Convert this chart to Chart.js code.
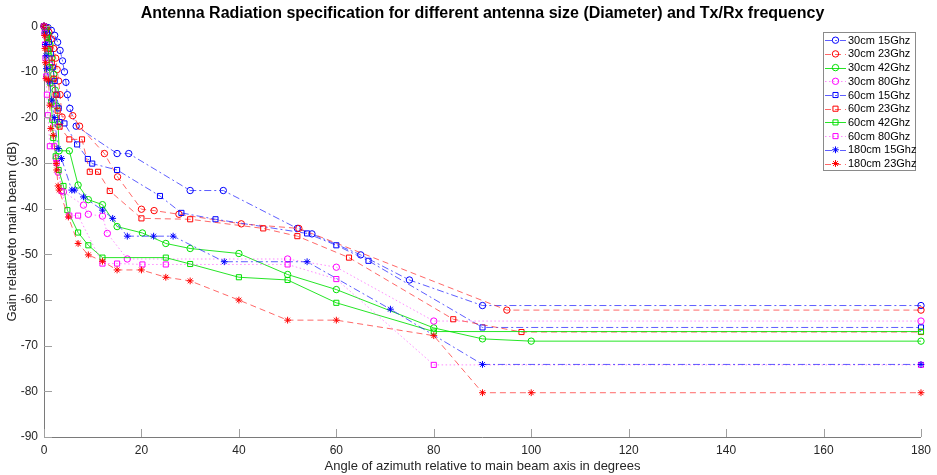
<!DOCTYPE html>
<html><head><meta charset="utf-8">
<script src="https://cdn.jsdelivr.net/npm/chart.js"></script>
<style>html,body{margin:0;padding:0;background:#fff;}canvas{display:block;}</style>
</head><body>
<canvas id="c" width="937" height="475"></canvas>
<script>
// ---- data ----
const seriesNames = ['30cm 15Ghz','30cm 23Ghz','30cm 42Ghz','30cm 80Ghz','60cm 15Ghz','60cm 23Ghz','60cm 42Ghz','60cm 80Ghz','180cm 15Ghz','180cm 23Ghz'];

const ang30_15  = [0, 0.8, 1.5, 2.2, 2.8, 3.3, 3.8, 4.2, 4.5, 4.8, 5.3, 6.6, 15, 17.4, 30, 36.8, 52, 55, 65, 75, 90, 180];
const gain30_15 = [0, -0.3, -0.9, -2, -3.5, -5.3, -7.6, -10, -12.3, -15, -18, -21.9, -27.9, -27.9, -36, -36, -44.3, -45.5, -50.1, -55.6, -61.2, -61.2];

const ang30_23  = [0, 0.5, 1.0, 1.5, 2.0, 2.4, 2.7, 3.0, 3.3, 3.7, 5.9, 7.3, 12.4, 15.1, 20, 22.6, 27.7, 40.5, 52.3, 95, 180];
const gain30_23 = [0, -0.4, -1.3, -2.8, -4.9, -7, -9.5, -12, -15, -19.9, -19.6, -21.9, -27.9, -33, -40.1, -40.4, -41.2, -43.3, -44.3, -62.2, -62.2];

const ang30_42  = [0, 0.4, 0.8, 1.2, 1.6, 2.0, 2.3, 2.6, 2.9, 3.1, 5.2, 7, 9.1, 12, 15, 20.2, 25, 30, 40, 50, 60, 80, 90, 100, 180];
const gain30_42 = [0, -0.5, -1.8, -4, -7, -10.5, -14, -17.5, -21.5, -27.3, -27.3, -34.8, -38, -39.1, -43.9, -45.3, -47.6, -48.7, -49.8, -54.4, -57.7, -66.1, -68.5, -69, -69];

const ang30_80  = [0, 0.3, 0.6, 0.9, 1.2, 1.5, 1.8, 2.1, 2.5, 2.9, 4.0, 8.1, 9.1, 12, 13, 17.1, 50, 60, 80, 180];
const gain30_80 = [0, -0.8, -2.5, -5, -8.5, -12.5, -17, -21, -29, -32, -36.3, -39.2, -41.2, -41.6, -45.4, -51, -51, -52.8, -64.6, -64.6];

const ang60_15  = [0, 0.3, 0.6, 1.0, 1.4, 1.8, 2.2, 2.6, 3.0, 3.2, 4.2, 6.8, 9.0, 9.9, 15, 23.8, 28.2, 35.2, 54, 60, 66.6, 90, 180];
const gain60_15 = [0, -0.5, -1.5, -3.5, -6, -9, -12, -15, -18, -21, -21.3, -25.9, -29.1, -30.1, -31.5, -37.2, -40.9, -42.3, -45.4, -48, -51.4, -66, -66];

const ang60_23  = [0, 0.4, 0.8, 1.2, 1.6, 2.0, 2.4, 2.8, 3.2, 5.2, 7.8, 9.4, 11.1, 13.5, 20, 30, 45, 52, 62.6, 84, 98, 180];
const gain60_23 = [0, -0.8, -2.5, -5, -8, -11.5, -15, -18.5, -22, -24.8, -24.8, -31.9, -31.9, -36.1, -42.1, -42.3, -44.3, -46, -50.7, -64.2, -67, -67];

const ang60_42  = [0, 0.3, 0.6, 0.9, 1.1, 1.3, 1.5, 1.7, 1.9, 2.4, 3.0, 4.0, 4.8, 7, 9.1, 12, 25, 30, 40, 50, 60, 80, 180];
const gain60_42 = [0, -0.7, -2.5, -5.5, -9, -12.5, -16.5, -20.5, -24.5, -28.5, -31.5, -35, -40.3, -45.2, -48, -50.7, -50.7, -52.1, -55, -55.6, -60.6, -66.9, -66.9];

const ang60_80  = [0, 0.1, 0.2, 0.3, 0.45, 0.6, 0.8, 1.2, 2.1, 2.6, 3.6, 5.2, 7, 12, 15, 20.2, 25, 50, 60, 80, 180];
const gain60_80 = [0, -1.5, -4, -7, -11, -15, -19.5, -26.3, -26.3, -30, -36.1, -41.5, -41.5, -52, -52, -52.2, -52.2, -52.2, -55.4, -74.2, -74.2];

const ang180_15  = [0, 0.15, 0.3, 0.4, 0.5, 1.1, 1.6, 2.1, 2.9, 3.6, 5.7, 6.3, 8.1, 12, 14.1, 17.1, 22.5, 26.5, 37, 54, 71.1, 90, 180];
const gain180_15 = [0, -1.5, -4, -6.5, -9.3, -12.2, -16.2, -20, -26.8, -29, -35.9, -35.9, -37.4, -40.3, -42.1, -46, -46, -46, -51.6, -51.6, -62, -74.1, -74.1];

const ang180_23  = [0, 0.1, 0.2, 0.3, 0.4, 0.9, 1.2, 1.4, 1.9, 2.5, 2.6, 2.9, 3.1, 5, 7, 9.1, 12, 15, 20, 25, 30, 40, 50, 60, 80, 90, 100, 180];
const gain180_23 = [0, -2, -4.9, -8, -11.5, -11.8, -17.3, -22.4, -23.9, -30.1, -31.5, -35, -35.9, -41.8, -47.6, -50.1, -51.5, -53.4, -53.4, -55, -55.8, -60, -64.4, -64.4, -67.8, -80.3, -80.3, -80.3];

const xTicks = [0, 20, 40, 60, 80, 100, 120, 140, 160, 180];
const yTicks = [0, -10, -20, -30, -40, -50, -60, -70, -80, -90];

const titleText = 'Antenna Radiation specification for different antenna size (Diameter) and Tx/Rx frequency';
const xTitle = 'Angle of azimuth relative to main beam axis in degrees';
const yTitle = 'Gain relativeto main beam (dB)';

// ---- styles ----
const COL = {
  blue:   {m: '#0000ff', l: 'rgba(40,40,255,0.75)'},
  red:    {m: '#ff0000', l: 'rgba(255,40,40,0.7)'},
  green:  {m: '#00e000', l: 'rgba(0,225,0,0.85)'},
  magenta:{m: '#ff00ff', l: 'rgba(255,60,255,0.6)'}
};
const DASH = {dashdot: [7, 3, 2, 3], dashed: [6, 4], dotted: [1.5, 2.5], solid: []};

const seriesData = [
  [ang30_15, gain30_15, 'blue', 'dashdot', 'circle'],
  [ang30_23, gain30_23, 'red', 'dashed', 'circle'],
  [ang30_42, gain30_42, 'green', 'solid', 'circle'],
  [ang30_80, gain30_80, 'magenta', 'dotted', 'circle'],
  [ang60_15, gain60_15, 'blue', 'dashdot', 'rect'],
  [ang60_23, gain60_23, 'red', 'dashed', 'rect'],
  [ang60_42, gain60_42, 'green', 'solid', 'rect'],
  [ang60_80, gain60_80, 'magenta', 'dotted', 'rect'],
  [ang180_15, gain180_15, 'blue', 'dashdot', 'star'],
  [ang180_23, gain180_23, 'red', 'dashed', 'star']
];

function radiusFor(style) { return style === 'circle' ? 3.2 : (style === 'rect' ? 3.6 : 3.4); }

const datasets = seriesData.map((s, i) => ({
  label: seriesNames[i],
  data: s[0].map((a, k) => ({x: a, y: s[1][k]})),
  borderColor: COL[s[2]].l,
  borderWidth: 1,
  borderDash: DASH[s[3]],
  pointStyle: s[4],
  pointRadius: radiusFor(s[4]),
  pointBorderColor: COL[s[2]].m,
  pointBackgroundColor: 'rgba(0,0,0,0)',
  pointBorderWidth: 1,
  fill: false,
  tension: 0,
  clip: false,
  order: seriesNames.length - i
}));

// inward tick marks
const inwardTicks = {
  id: 'inwardTicks',
  afterDraw(chart) {
    const {ctx, chartArea: ca, scales: {x, y}} = chart;
    ctx.save();
    ctx.strokeStyle = '#a0a0a0';
    ctx.lineWidth = 1;
    ctx.beginPath();
    xTicks.forEach(v => { const px = Math.round(x.getPixelForValue(v)) + 0.5; ctx.moveTo(px, ca.bottom); ctx.lineTo(px, ca.bottom - 8); });
    yTicks.forEach(v => { const py = Math.round(y.getPixelForValue(v)) + 0.5; ctx.moveTo(ca.left, py); ctx.lineTo(ca.left + 8, py); });
    ctx.stroke();
    ctx.restore();
  }
};

function drawMarker(ctx, style, r, cx, cy, color) {
  if (Chart.helpers && Chart.helpers.drawPoint) {
    ctx.strokeStyle = color; ctx.fillStyle = 'rgba(0,0,0,0)'; ctx.lineWidth = 1; ctx.setLineDash([]);
    Chart.helpers.drawPoint(ctx, {pointStyle: style, radius: r, rotation: 0, borderWidth: 1}, cx, cy);
    return;
  }
  ctx.save(); ctx.strokeStyle = color; ctx.lineWidth = 1; ctx.setLineDash([]); ctx.beginPath();
  if (style === 'circle') ctx.arc(cx, cy, r, 0, Math.PI * 2);
  else if (style === 'rect') { const s = r * Math.SQRT1_2; ctx.rect(cx - s, cy - s, 2 * s, 2 * s); }
  else { for (let k = 0; k < 4; k++) { const a = k * Math.PI / 4; ctx.moveTo(cx + r * Math.cos(a), cy + r * Math.sin(a)); ctx.lineTo(cx - r * Math.cos(a), cy - r * Math.sin(a)); } }
  ctx.stroke(); ctx.restore();
}

// legend box in the top-right corner of the plot
const legendBox = {
  id: 'legendBox',
  afterDraw(chart) {
    const {ctx, chartArea: ca} = chart;
    const w = 92, rowH = 13.7, h = rowH * seriesNames.length + 1;
    const x0 = ca.right - 6 - w, y0 = ca.top + 6;
    ctx.save();
    ctx.fillStyle = '#ffffff';
    ctx.fillRect(x0, y0, w, h);
    ctx.strokeStyle = '#8a8a8a';
    ctx.lineWidth = 1;
    ctx.setLineDash([]);
    ctx.strokeRect(Math.round(x0) + 0.5, Math.round(y0) + 0.5, w, h);
    ctx.font = '11px "Liberation Sans", Arial, sans-serif';
    ctx.textBaseline = 'middle';
    seriesData.forEach((s, i) => {
      const cy = y0 + 8 + i * rowH;
      ctx.save();
      ctx.strokeStyle = COL[s[2]].l;
      ctx.lineWidth = 1;
      ctx.setLineDash(DASH[s[3]]);
      ctx.beginPath();
      ctx.moveTo(x0 + 2, Math.round(cy) + 0.5);
      ctx.lineTo(x0 + 23, Math.round(cy) + 0.5);
      ctx.stroke();
      ctx.restore();
      ctx.save();
      drawMarker(ctx, s[4], radiusFor(s[4]), x0 + 12.5, cy, COL[s[2]].m);
      ctx.restore();
      ctx.fillStyle = '#000';
      ctx.fillText(seriesNames[i], x0 + 25, cy + 0.5);
    });
    ctx.restore();
  }
};

const FONT = '"Liberation Sans", Arial, sans-serif';

new Chart(document.getElementById('c'), {
  type: 'line',
  data: {datasets},
  plugins: [inwardTicks, legendBox],
  options: {
    responsive: false,
    animation: false,
    devicePixelRatio: 1,
    layout: {padding: {left: 0, right: 15, top: 0, bottom: 0}},
    plugins: {
      legend: {display: false},
      tooltip: {enabled: false},
      title: {
        display: true, text: titleText, color: '#000', fullSize: false,
        font: {family: FONT, size: 16, weight: 'bold'},
        padding: {top: 4, bottom: 3}
      }
    },
    scales: {
      x: {
        type: 'linear', min: 0, max: 180,
        afterBuildTicks(scale) { scale.ticks = xTicks.map(v => ({value: v})); },
        afterFit(scale) { scale.height = 38; },
        grid: {display: false, drawTicks: false},
        border: {display: true, color: '#7a7a7a', width: 1},
        ticks: {color: '#262626', font: {family: FONT, size: 12}, padding: 6, maxRotation: 0, autoSkip: false},
        title: {display: true, text: xTitle, color: '#262626', font: {family: FONT, size: 13}, padding: {top: 0, bottom: 1}}
      },
      y: {
        type: 'linear', min: -90, max: 0,
        afterBuildTicks(scale) { scale.ticks = yTicks.map(v => ({value: v})); },
        afterFit(scale) { scale.width = 44; },
        grid: {display: false, drawTicks: false},
        border: {display: true, color: '#7a7a7a', width: 1},
        ticks: {color: '#262626', font: {family: FONT, size: 12}, padding: 6, autoSkip: false},
        title: {display: true, text: yTitle, color: '#262626', font: {family: FONT, size: 13}, padding: {top: 5, bottom: 0}}
      }
    }
  }
});
</script>
</body></html>
